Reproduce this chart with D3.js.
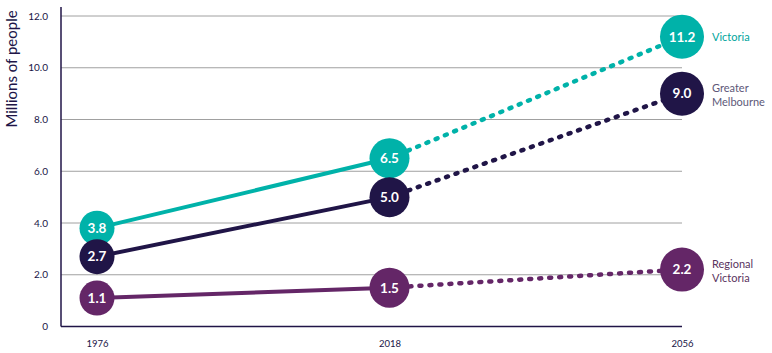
<!DOCTYPE html>
<html>
<head>
<meta charset="utf-8">
<script src="https://cdn.jsdelivr.net/npm/d3@7"></script>
<style>
  body { margin: 0; background: #fff; }
  svg text { font-family: "Lato", "Noto Sans", sans-serif; }
</style>
</head>
<body>
<div id="chart"></div>
<script>
var years = ["1976", "2018", "2056"];
var yTicks = [0, 2, 4, 6, 8, 10, 12];
var victoria = [3.8, 6.5, 11.2];
var melbourne = [2.7, 5.0, 9.0];
var regional = [1.1, 1.5, 2.2];

var series = [
    { name: ["Victoria"], values: victoria, color: "#00b2a9", text: "#00a59d" },
    { name: ["Greater", "Melbourne"], values: melbourne, color: "#201547", text: "#5d5878" },
    { name: ["Regional", "Victoria"], values: regional, color: "#642667", text: "#5a3460" }
];

var width = 772, height = 353;
var plotLeft = 61, plotRight = 682, plotTop = 16, plotBottom = 326.5;

var svg = d3.select("#chart").append("svg")
    .attr("width", width)
    .attr("height", height);

var x = d3.scalePoint()
    .domain(years)
    .range([97, plotRight]);

var y = d3.scaleLinear()
    .domain([0, 12])
    .range([plotBottom, plotTop]);

var radius = d3.scaleOrdinal()
    .domain(years)
    .range([17.5, 20, 22]);

// gridlines
svg.append("g")
    .selectAll("line")
    .data(yTicks.filter(function (d) { return d > 0; }))
    .enter().append("line")
    .attr("x1", plotLeft)
    .attr("x2", plotRight)
    .attr("y1", function (d) { return y(d); })
    .attr("y2", function (d) { return y(d); })
    .attr("stroke", "#a0a0a0")
    .attr("stroke-width", 1);

// y axis
var yAxis = svg.append("g")
    .attr("transform", "translate(" + plotLeft + ",0)")
    .call(d3.axisLeft(y)
        .tickValues(yTicks)
        .tickSize(0)
        .tickPadding(13)
        .tickFormat(function (d) { return d === 0 ? "0" : d3.format(".1f")(d); }));
yAxis.select(".domain").remove();
yAxis.selectAll("text")
    .attr("fill", "#201547")
    .style("font-size", "10px");

svg.append("line")
    .attr("x1", plotLeft).attr("x2", plotLeft)
    .attr("y1", 7).attr("y2", plotBottom)
    .attr("stroke", "#201547")
    .attr("stroke-width", 1.5);

// x axis
var xAxis = svg.append("g")
    .attr("transform", "translate(0," + plotBottom + ")")
    .call(d3.axisBottom(x).tickSize(0).tickPadding(14));
xAxis.select(".domain").remove();
xAxis.selectAll("text")
    .attr("fill", "#201547")
    .style("font-size", "9.5px");

svg.append("line")
    .attr("x1", plotLeft).attr("x2", plotRight)
    .attr("y1", plotBottom).attr("y2", plotBottom)
    .attr("stroke", "#201547")
    .attr("stroke-width", 1.5);

svg.append("text")
    .attr("transform", "translate(17," + 69 + ") rotate(-90)")
    .attr("text-anchor", "middle")
    .attr("fill", "#201547")
    .style("font-size", "15px")
    .text("Millions of people");

series.forEach(function (s) {
    var pts = years.map(function (yr, i) { return [x(yr), y(s.values[i])]; });

    svg.append("line")
        .attr("x1", pts[0][0]).attr("y1", pts[0][1])
        .attr("x2", pts[1][0]).attr("y2", pts[1][1])
        .attr("stroke", s.color)
        .attr("stroke-width", 4);

    svg.append("line")
        .attr("x1", pts[1][0]).attr("y1", pts[1][1])
        .attr("x2", pts[2][0]).attr("y2", pts[2][1])
        .attr("stroke", s.color)
        .attr("stroke-width", 4.5)
        .attr("stroke-linecap", "round")
        .attr("stroke-dasharray", "2,8");

    years.forEach(function (yr, i) {
        svg.append("circle")
            .attr("cx", pts[i][0])
            .attr("cy", pts[i][1])
            .attr("r", radius(yr))
            .attr("fill", s.color);
        svg.append("text")
            .attr("x", pts[i][0])
            .attr("y", pts[i][1])
            .attr("dy", "0.36em")
            .attr("text-anchor", "middle")
            .attr("fill", "#fff")
            .style("font-size", "13.5px")
            .style("font-weight", "bold")
            .text(d3.format(".1f")(s.values[i]));
    });

    var last = pts[2];
    var lbl = svg.append("text")
        .attr("x", 712)
        .attr("y", last[1] - (s.name.length - 1) * 5)
        .attr("fill", s.text)
        .style("font-size", "11px");
    s.name.forEach(function (t, j) {
        lbl.append("tspan")
            .attr("x", 712)
            .attr("dy", j === 0 ? "0.35em" : "14px")
            .text(t);
    });
});
</script>
</body>
</html>
